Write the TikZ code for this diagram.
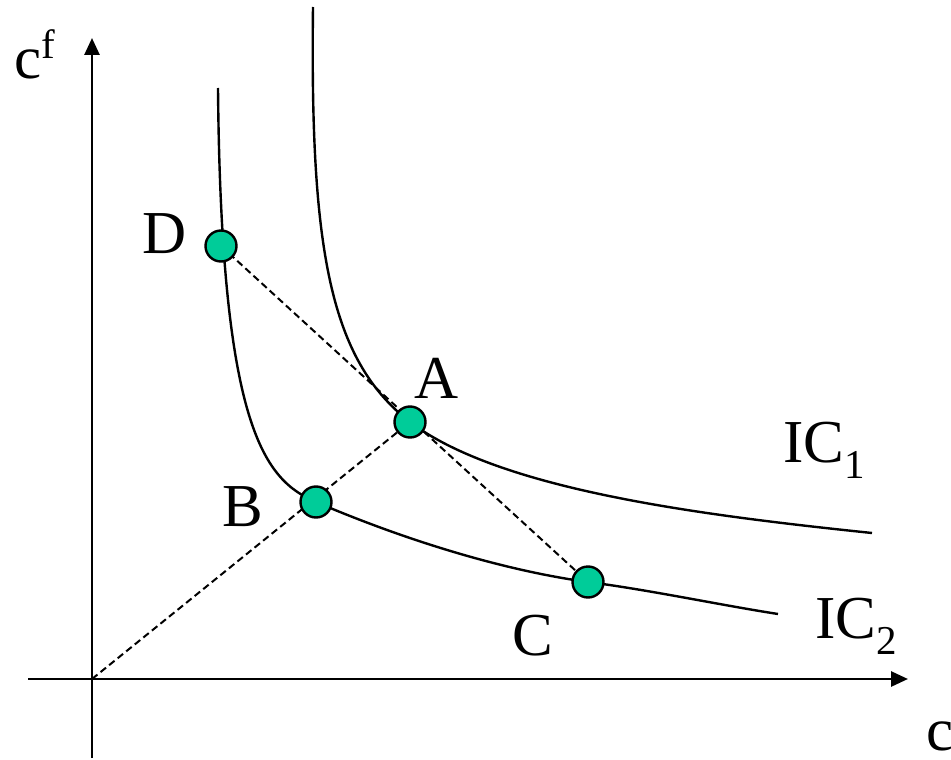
\documentclass[tikz,border=0pt]{standalone}
\usepackage{fontspec}
\setmainfont{Liberation Serif}
\usetikzlibrary{arrows.meta}
\definecolor{dotgreen}{RGB}{0,204,153}
\tikzset{
  axis/.style={line width=2.8pt,-{Triangle[length=17pt,width=15pt]}},
  curve/.style={line width=2.4pt},
  dashline/.style={line width=2pt,dash pattern=on 7pt off 4pt},
  dot/.style={circle,draw=black,line width=2.4pt,fill=dotgreen,minimum size=31pt,inner sep=0pt},
  lbl/.style={font=\fontsize{61}{70}\selectfont,inner sep=0pt,anchor=base},
  lblw/.style={lbl,anchor=base west}
}
\newcommand{\lowsub}[1]{{\fontsize{41}{41}\selectfont\raisebox{-16pt}{#1}}}
\newcommand{\highsup}[1]{{\fontsize{41}{41}\selectfont\raisebox{20pt}{#1}}}
\begin{document}
\begin{tikzpicture}[x=1pt,y=-1pt]
\useasboundingbox (0,0) rectangle (951,760);
% axes
\coordinate (O) at (92,679);
\coordinate (ytop) at (92,38);
\coordinate (ybot) at (92,758);
\coordinate (xleft) at (28,679);
\coordinate (xright) at (908,679);
\draw[axis] (ybot) -- (ytop);
\draw[axis] (xleft) -- (xright);
% points
\coordinate (pD) at (221,246);
\coordinate (pA) at (410,422);
\coordinate (pB) at (316,502);
\coordinate (pC) at (588,582);
% dashed lines
\draw[dashline] (O) -- (pA);
\draw[dashline] (pD) -- (pC);
% IC1
\draw[curve] (313,7) .. controls (310,250) and (330,360) .. (pA)
  .. controls (500,490) and (700,515) .. (872,533);
% IC2
\draw[curve] (218,88) .. controls (221,430) and (265,480) .. (pB)
  .. controls (400,538) and (500,570) .. (pC)
  .. controls (650,590) and (720,605) .. (778,614);
% dots
\node[dot] (D) at (pD) {};
\node[dot] (A) at (pA) {};
\node[dot] (B) at (pB) {};
\node[dot] (C) at (pC) {};
% labels
\node[lbl] (lD) at (165,253) {D};
\node[lbl] (lA) at (437,398) {A};
\node[lbl] (lB) at (243,526) {B};
\node[lbl] (lC) at (533,655) {C};
\node[lblw] (lIC1) at (783,462) {IC\lowsub{1}};
\node[lblw] (lIC2) at (815,638) {IC\lowsub{2}};
\node[lblw] (lcf) at (14,78) {c\highsup{f}};
\node[lblw] (lc) at (926,750) {c};
\end{tikzpicture}
\end{document}
